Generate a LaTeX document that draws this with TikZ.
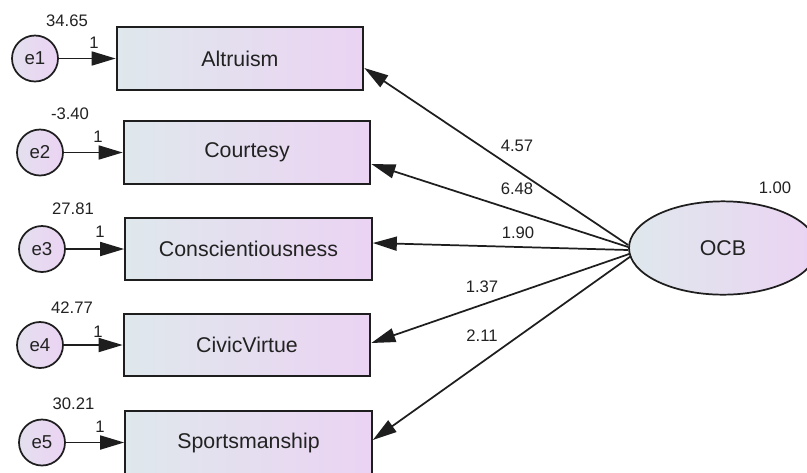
\documentclass[tikz,border=0pt]{standalone}
\usepackage{fontspec}
\setmainfont{Liberation Sans}
\usetikzlibrary{arrows.meta,calc,shapes.geometric}
\definecolor{lc}{HTML}{DFE8EC}
\definecolor{rc}{HTML}{EBD3F3}
\definecolor{ln}{HTML}{1E1E1E}
\definecolor{tx}{HTML}{222222}
\begin{document}
\begin{tikzpicture}[x=0.75pt,y=-0.75pt,
  obs/.style={draw=ln, line width=1.5pt, left color=lc, right color=rc,
    minimum width=185pt, minimum height=47pt, inner sep=0pt, text=tx,
    font=\fontsize{16}{19}\selectfont},
  err/.style={circle, draw=ln, line width=1.3pt, left color=lc!60!rc, right color=rc,
    minimum size=34.5pt, inner sep=0pt, text=tx, font=\fontsize{14}{16}\selectfont},
  lat/.style={ellipse, draw=ln, line width=1.3pt, left color=lc, right color=rc,
    minimum width=141pt, minimum height=70pt, inner sep=0pt, text=tx,
    font=\fontsize{16}{19}\selectfont},
  arr/.style={draw=ln, line width=1.3pt, -{Triangle[length=18pt,width=10.5pt]}},
  num/.style={text=tx, inner sep=0pt, font=\fontsize{12.5}{14}\selectfont}]
\fill[white] (0,0) rectangle (807,472);
\useasboundingbox (0,0) rectangle (807,472);
% observed variables
\node[obs] (alt) at (240,58.5) {Altruism};
\node[obs] (cou) at (247,152.5) {Courtesy};
\node[obs] (con) at (248.5,249) {Conscientiousness};
\node[obs] (civ) at (247,345) {CivicVirtue};
\node[obs] (spo) at (248.5,442.5) {Sportsmanship};
% errors
\node[err] (e1) at (35,58.5) {e1};
\node[err] (e2) at (40,152.5) {e2};
\node[err] (e3) at (42,249) {e3};
\node[err] (e4) at (40,345) {e4};
\node[err] (e5) at (42,442.5) {e5};
% latent
\node[lat] (ocb) at (723,248) {OCB};
% error arrows
\draw[arr] (e1) -- (alt);
\draw[arr] (e2) -- (cou);
\draw[arr] (e3) -- (con);
\draw[arr] (e4) -- (civ);
\draw[arr] (e5) -- (spo);
% loadings
\draw[arr] ($(ocb.west)+(0,-3)$) -- ($(alt.east)+(0,9.5)$);
\draw[arr] ($(ocb.west)+(0,-1)$) -- ($(cou.east)+(0,11.5)$);
\draw[arr] ($(ocb.west)+(0,2)$) -- ($(con.east)+(0,-6)$);
\draw[arr] ($(ocb.west)+(1,6)$) -- ($(civ.east)+(0,-2)$);
\draw[arr] ($(ocb.west)+(3,8)$) -- ($(spo.east)+(0,-2.5)$);
% labels
\node[num] (l1) at (517,146) {4.57};
\node[num] (l2) at (517,189) {6.48};
\node[num] (l3) at (518,233) {1.90};
\node[num] (l4) at (482,287) {1.37};
\node[num] (l5) at (482,336) {2.11};
\node[num] (v0) at (775,188) {1.00};
\node[num] (v1) at (67,20.5) {34.65};
\node[num] (v2) at (70,114) {-3.40};
\node[num] (v3) at (73,209) {27.81};
\node[num] (v4) at (72,307.5) {42.77};
\node[num] (v5) at (73.5,404) {30.21};
\node[num] (w1) at (94,43) {1};
\node[num] (w2) at (98,137) {1};
\node[num] (w3) at (100,232) {1};
\node[num] (w4) at (98,332) {1};
\node[num] (w5) at (100,427) {1};
\end{tikzpicture}
\end{document}
